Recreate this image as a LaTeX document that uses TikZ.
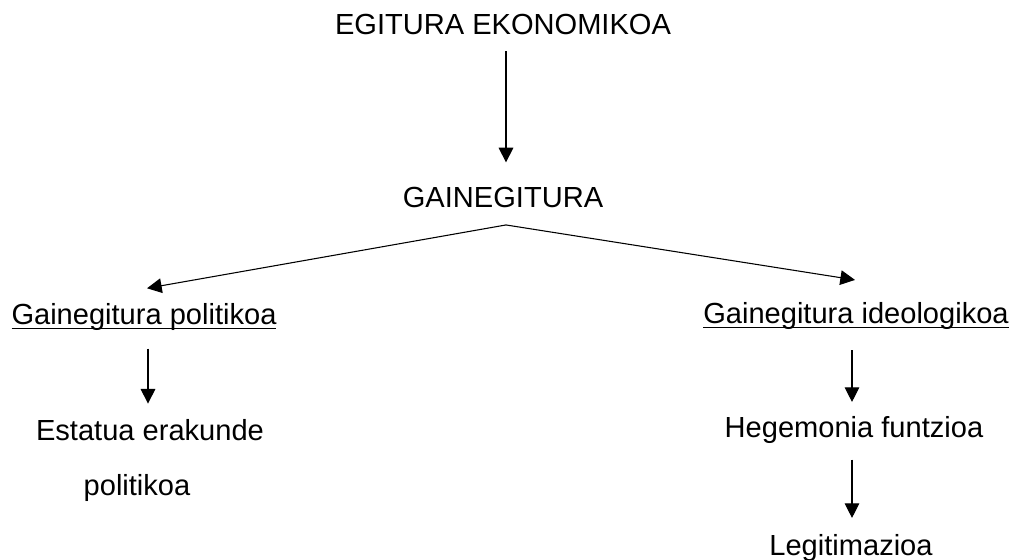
\documentclass[tikz,border=0pt]{standalone}
\usepackage{fontspec}
\setmainfont{Liberation Sans}
\usetikzlibrary{arrows.meta}
\begin{document}
\begin{tikzpicture}[x=0.75pt,y=-0.75pt,
  lbl/.style={anchor=base,inner sep=0pt,outer sep=0pt,font=\fontsize{21.8pt}{26pt}\selectfont},
  arr/.style={line width=0.8pt,-{Triangle[length=11pt,width=11pt]}},
  uline/.style={line width=1.3pt}]
\useasboundingbox (0,0) rectangle (1015,560);
\node[lbl] (eco) at (503,35) {EGITURA EKONOMIKOA};
\node[lbl] (gain) at (503,208) {GAINEGITURA};
\node[lbl] (pol) at (144,324) {Gainegitura politikoa};
\node[lbl] (ide) at (856,323) {Gainegitura ideologikoa};
\node[lbl] (est) at (150,440) {Estatua erakunde};
\node[lbl] (polk) at (137,495) {politikoa};
\node[lbl] (heg) at (854,437) {Hegemonia funtzioa};
\node[lbl] (leg) at (851,555) {Legitimazioa};
% underlines
\draw[uline] ([yshift=-3.4pt]pol.base west) -- ([yshift=-3.4pt]pol.base east);
\draw[uline] ([yshift=-3.4pt]ide.base west) -- ([yshift=-3.4pt]ide.base east);
% connectors
\draw[arr] ([xshift=2.25pt,yshift=-12pt]eco.south) -- ([xshift=2.25pt,yshift=19pt]gain.north);
\coordinate (apex) at ([xshift=2.25pt,yshift=-12.5pt]gain.south);
\draw[arr] (apex) -- ([xshift=2.25pt,yshift=11pt]pol.north);
\draw[arr] (apex) -- ([xshift=-0.75pt,yshift=16.5pt]ide.north);
\draw[arr] ([xshift=3pt,yshift=-14pt]pol.south) -- ([xshift=-1.5pt,yshift=11.5pt]est.north);
\draw[arr] ([xshift=-3pt,yshift=-16pt]ide.south) -- ([xshift=-1.5pt,yshift=10.5pt]heg.north);
\draw[arr] ([xshift=-1.5pt,yshift=-12.5pt]heg.south) -- ([xshift=0.75pt,yshift=12pt]leg.north);
\end{tikzpicture}
\end{document}
